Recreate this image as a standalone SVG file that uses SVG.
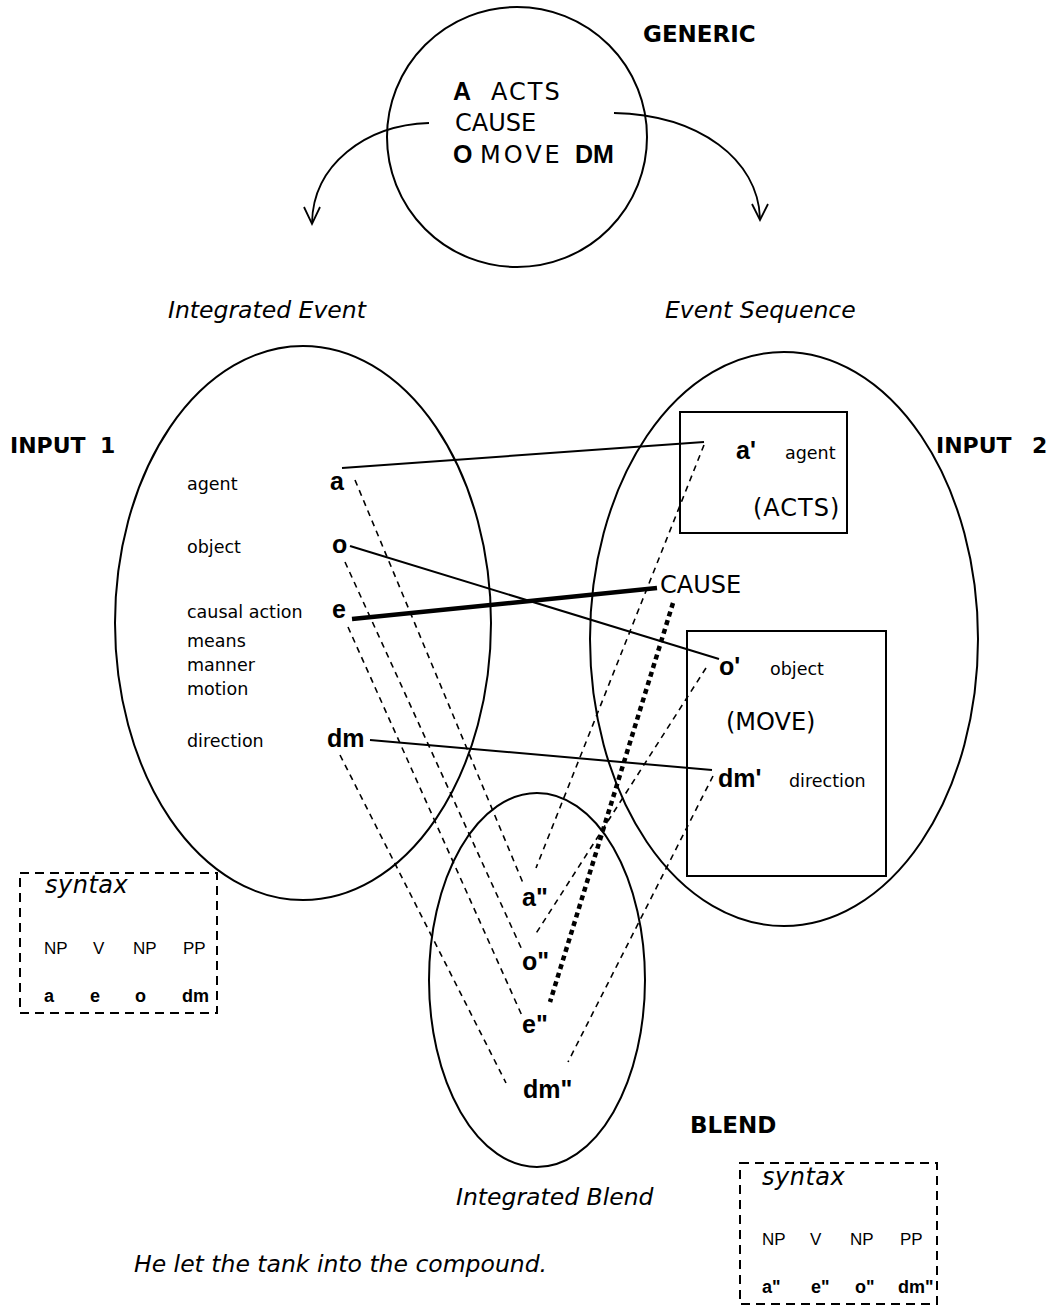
<svg xmlns="http://www.w3.org/2000/svg" width="1050" height="1306" viewBox="0 0 1050 1306">
<style>
.shape{fill:none;stroke:#000;stroke-width:2}
.solid{fill:none;stroke:#000;stroke-width:2}
.thick{fill:none;stroke:#000;stroke-width:4.5}
.dash{fill:none;stroke:#000;stroke-width:1.6;stroke-dasharray:6 5}
.dots{fill:none;stroke:#000;stroke-width:4.5;stroke-dasharray:5 4}
.sbox{fill:none;stroke:#000;stroke-width:2;stroke-dasharray:9 6}
.arr{fill:none;stroke:#000;stroke-width:1.8}
.lbl{font-family:"DejaVu Sans",sans-serif;font-size:17.5px;fill:#000}
.big{font-family:"DejaVu Sans",sans-serif;font-size:24px;fill:#000}
.hdr{font-family:"DejaVu Sans",sans-serif;font-size:22px;font-weight:bold;fill:#000}
.it{font-family:"DejaVu Sans",sans-serif;font-size:23.5px;font-style:italic;fill:#000}
.node{font-family:"Liberation Sans",Arial,sans-serif;font-size:25px;font-weight:bold;fill:#000}
.syn{font-family:"Liberation Sans",Arial,sans-serif;font-size:17px;fill:#000}
.synb{font-family:"Liberation Sans",Arial,sans-serif;font-size:18px;font-weight:bold;fill:#000}
</style>
<rect width="1050" height="1306" fill="#fff"/>

<g id="generic">
<circle class="shape" cx="517" cy="137" r="130"/>
<text class="hdr" x="643" y="42" style="font-size:23px">GENERIC</text>
<text class="node" x="453" y="100">A</text>
<text class="big" x="491" y="100" letter-spacing="2">ACTS</text>
<text class="big" x="455" y="131">CAUSE</text>
<text class="node" x="453" y="163">O</text>
<text class="big" x="480" y="163" letter-spacing="3">MOVE</text>
<text class="node" x="575" y="163">DM</text>
</g>

<g id="generic-arrows">
<path class="arr" d="M429,123 C365,125 313,165 312,223"/>
<path class="arr" d="M304,207 L312,224 L320,207"/>
<path class="arr" d="M614,113 C700,115 758,160 760,218"/>
<path class="arr" d="M752,204 L760,220 L768,204"/>
</g>

<text class="it" x="168" y="318">Integrated Event</text>
<text class="it" x="665" y="318">Event Sequence</text>

<g id="input1">
<ellipse class="shape" cx="303" cy="623" rx="188" ry="277"/>
<text class="hdr" x="10" y="453">INPUT<tspan x="100">1</tspan></text>
<text class="lbl" x="187" y="490">agent</text>
<text class="lbl" x="187" y="553">object</text>
<text class="lbl" x="187" y="618">causal action</text>
<text class="lbl" x="187" y="647">means</text>
<text class="lbl" x="187" y="671">manner</text>
<text class="lbl" x="187" y="695">motion</text>
<text class="lbl" x="187" y="747">direction</text>
<text class="node" x="330" y="490">a</text>
<text class="node" x="332" y="553">o</text>
<text class="node" x="332" y="618">e</text>
<text class="node" x="327" y="747">dm</text>
</g>

<g id="input2">
<ellipse class="shape" cx="784" cy="639" rx="194" ry="287"/>
<text class="hdr" x="936" y="453">INPUT<tspan x="1032">2</tspan></text>
<rect class="shape" x="680" y="412" width="167" height="121"/>
<rect class="shape" x="687" y="631" width="199" height="245"/>
<text class="node" x="736" y="459">a'</text>
<text class="lbl" x="785" y="459">agent</text>
<text class="big" x="753" y="516" letter-spacing="1">(ACTS)</text>
<text class="big" x="660" y="593">CAUSE</text>
<text class="node" x="719" y="675">o'</text>
<text class="lbl" x="770" y="675">object</text>
<text class="big" x="726" y="730">(MOVE)</text>
<text class="node" x="718" y="787">dm'</text>
<text class="lbl" x="789" y="787">direction</text>
</g>

<g id="blend">
<ellipse class="shape" cx="537" cy="980" rx="108" ry="187"/>
<text class="node" x="522" y="906">a"</text>
<text class="node" x="522" y="970">o"</text>
<text class="node" x="522" y="1033">e"</text>
<text class="node" x="523" y="1098">dm"</text>
<text class="hdr" x="690" y="1133" style="font-size:23px">BLEND</text>
<text class="it" x="456" y="1205">Integrated Blend</text>
</g>

<g id="connectors">
<line class="solid" x1="342" y1="468" x2="704" y2="442"/>
<line class="solid" x1="350" y1="546" x2="719" y2="659"/>
<line class="thick" x1="352" y1="619" x2="657" y2="588"/>
<line class="solid" x1="370" y1="740" x2="712" y2="770"/>
<line class="dash" x1="355" y1="480" x2="523" y2="883"/>
<line class="dash" x1="345" y1="562" x2="523" y2="952"/>
<line class="dash" x1="348" y1="627" x2="523" y2="1018"/>
<line class="dash" x1="340" y1="755" x2="506" y2="1083"/>
<line class="dash" x1="704" y1="445" x2="536" y2="868"/>
<line class="dash" x1="706" y1="668" x2="535" y2="935"/>
<line class="dash" x1="713" y1="776" x2="568" y2="1062"/>
<line class="dots" x1="673" y1="603" x2="550" y2="1002"/>
</g>

<g id="syntax1">
<rect class="sbox" x="20" y="873" width="197" height="140"/>
<text class="it" x="45" y="893" style="font-size:24px" letter-spacing="0.5">syntax</text>
<text class="syn" x="44" y="954">NP</text>
<text class="syn" x="93" y="954">V</text>
<text class="syn" x="133" y="954">NP</text>
<text class="syn" x="183" y="954">PP</text>
<text class="synb" x="44" y="1002">a</text>
<text class="synb" x="90" y="1002">e</text>
<text class="synb" x="135" y="1002">o</text>
<text class="synb" x="182" y="1002">dm</text>
</g>

<g id="syntax2">
<rect class="sbox" x="740" y="1163" width="197" height="141"/>
<text class="it" x="762" y="1185" style="font-size:24px" letter-spacing="0.5">syntax</text>
<text class="syn" x="762" y="1245">NP</text>
<text class="syn" x="810" y="1245">V</text>
<text class="syn" x="850" y="1245">NP</text>
<text class="syn" x="900" y="1245">PP</text>
<text class="synb" x="762" y="1293">a"</text>
<text class="synb" x="811" y="1293">e"</text>
<text class="synb" x="855" y="1293">o"</text>
<text class="synb" x="898" y="1293">dm"</text>
</g>

<text class="it" x="134" y="1272">He let the tank into the compound.</text>
</svg>
